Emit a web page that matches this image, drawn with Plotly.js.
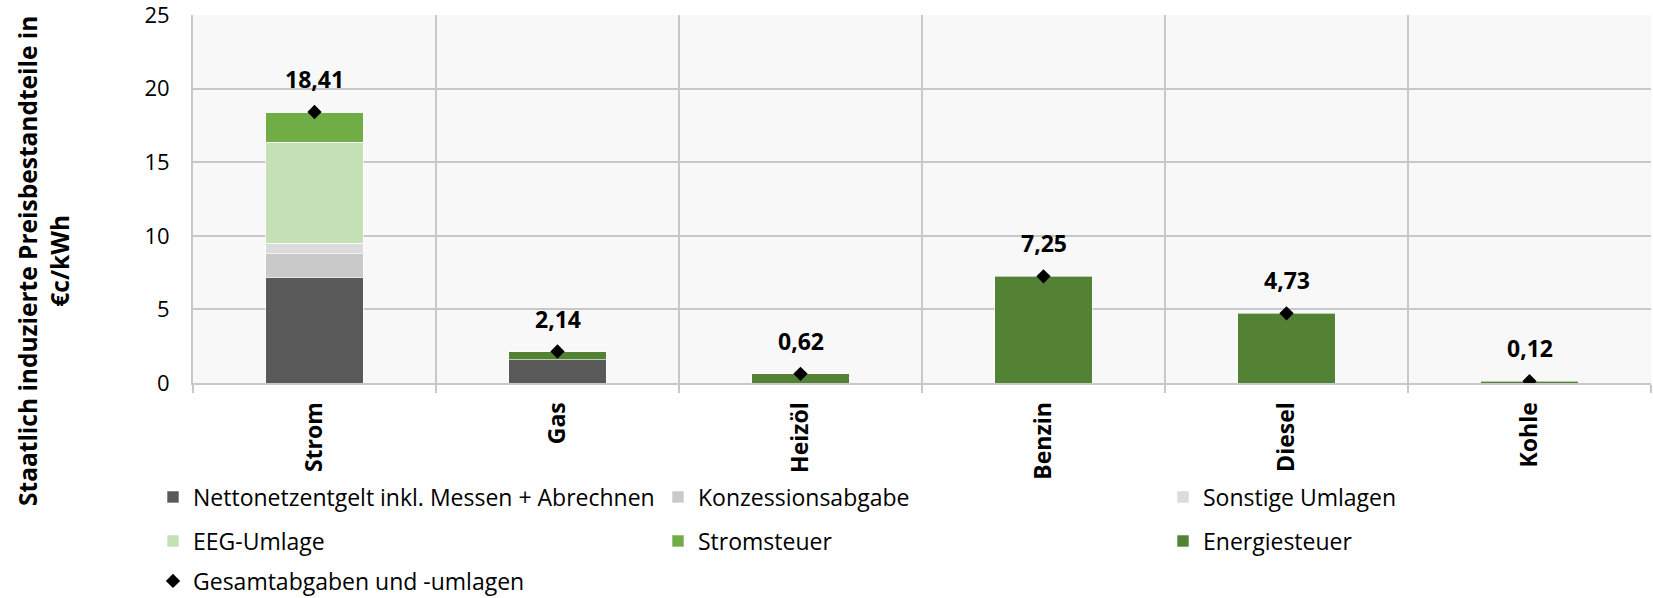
<!DOCTYPE html>
<html><head><meta charset="utf-8">
<script src="https://cdn.plot.ly/plotly-3.0.1.min.js"></script>
<style>html,body{margin:0;padding:0;background:#fff}#chart{width:1653px;height:598px}</style>
</head><body><div id="chart"></div>
<script>
const categories = ["Strom", "Gas", "Heizöl", "Benzin", "Diesel", "Kohle"];
const nettonetzentgelt = [7.18, 1.59, 0, 0, 0, 0];
const konzessionsabgabe = [1.60, 0, 0, 0, 0, 0];
const sonstigeUmlagen = [0.70, 0, 0, 0, 0, 0];
const eegUmlage = [6.88, 0, 0, 0, 0, 0];
const stromsteuer = [2.05, 0, 0, 0, 0, 0];
const energiesteuer = [0, 0.55, 0.62, 7.25, 4.73, 0.12];
const gesamt = [18.41, 2.14, 0.62, 7.25, 4.73, 0.12];
const yTicks = [0, 5, 10, 15, 20, 25];

const FONT = "Open Sans, Noto Sans, sans-serif";
function bar(name, y, color, legend) {
  return {type: "bar", name: name, x: categories, y: y, legend: legend,
    marker: {color: color, line: {color: "#ffffff", width: 0.6}}, hoverinfo: "skip"};
}
const traces = [
  bar("Nettonetzentgelt inkl. Messen + Abrechnen", nettonetzentgelt, "#595959", "legend"),
  bar("Konzessionsabgabe", konzessionsabgabe, "#c9c9c9", "legend"),
  bar("Sonstige Umlagen", sonstigeUmlagen, "#dbdbdb", "legend4"),
  bar("EEG-Umlage", eegUmlage, "#c5e0b4", "legend2"),
  bar("Stromsteuer", stromsteuer, "#70ad47", "legend2"),
  bar("Energiesteuer", energiesteuer, "#548235", "legend5"),
  {type: "scatter", mode: "markers", name: "Gesamtabgaben und -umlagen", x: categories, y: gesamt,
   legend: "legend3", marker: {symbol: "diamond", color: "#000000", size: 11}, hoverinfo: "skip"}
];
const annotations = categories.map((c, i) => ({
  x: c, y: gesamt[i], xref: "x", yref: "y", text: "<b>" + gesamt[i].toFixed(2).replace(".", ",") + "</b>",
  showarrow: false, yshift: 33, font: {family: FONT, size: 23, color: "#000"}
}));
annotations.push({
  xref: "paper", yref: "paper", x: -0.1029, y: 0.3315, xanchor: "center", yanchor: "middle",
  textangle: -90, showarrow: false,
  text: "<b>Staatlich induzierte Preisbestandteile in<br>€c/kWh</b>",
  font: {family: FONT, size: 24.5, color: "#000"}
});
const W = 1653, H = 598;
const legBase = {orientation: "h", xanchor: "left", yanchor: "middle", xref: "container", yref: "container",
  x: 153 / W, bgcolor: "rgba(0,0,0,0)",
  font: {family: FONT, size: 23, color: "#000"}, traceorder: "normal"};
const colLegend = Object.assign({}, legBase, {entrywidth: 460, entrywidthmode: "pixels"});
const layout = {
  width: W, height: H,
  margin: {l: 193, r: 2, t: 15, b: 214.5, pad: 0},
  paper_bgcolor: "#ffffff", plot_bgcolor: "#f8f8f8",
  barmode: "stack", bargap: 0.6,
  separators: ",.",
  font: {family: FONT, size: 22, color: "#000"},
  showlegend: true,
  legend: Object.assign({}, colLegend, {y: 1 - 497 / H}),
  legend2: Object.assign({}, colLegend, {y: 1 - 541 / H}),
  legend3: Object.assign({}, legBase, {y: 1 - 581 / H}),
  legend4: Object.assign({}, legBase, {y: 1 - 497 / H, x: 1163 / W}),
  legend5: Object.assign({}, legBase, {y: 1 - 541 / H, x: 1163 / W}),
  xaxis: {type: "category", tickson: "boundaries", ticks: "outside", ticklen: 8, tickcolor: "#c8c8c8", tickwidth: 2,
    showgrid: true, gridcolor: "#c8c8c8", gridwidth: 2, showline: true, linecolor: "#c8c8c8", linewidth: 2,
    tickangle: -90, ticklabelstandoff: 8, tickfont: {family: FONT, size: 23, color: "#000", weight: "bold"}, fixedrange: true},
  yaxis: {range: [0, 25], tickvals: yTicks, ticktext: yTicks.map(String), ticks: "", showgrid: true,
    gridcolor: "#c8c8c8", gridwidth: 2, showline: true, linecolor: "#c8c8c8", linewidth: 2, zeroline: false,
    ticklabeloverflow: "allow", automargin: false,
    ticklabelstandoff: 17, tickfont: {family: FONT, size: 22, color: "#000"}, fixedrange: true},
  annotations: annotations
};
Plotly.newPlot("chart", traces, layout, {displayModeBar: false, staticPlot: true});
</script></body></html>
